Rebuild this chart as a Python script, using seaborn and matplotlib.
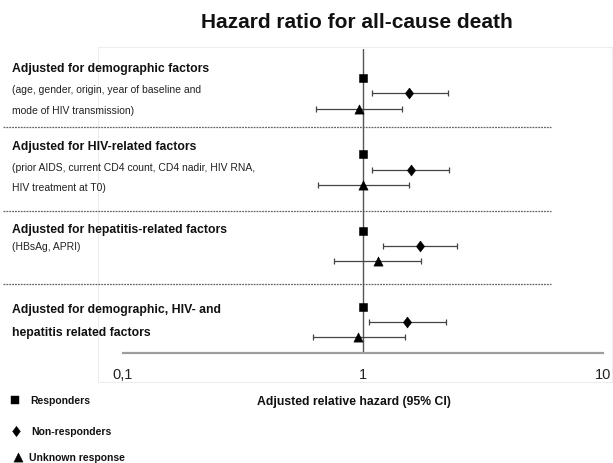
import numpy as np
import pandas as pd
import matplotlib
matplotlib.use("Agg")
import matplotlib.pyplot as plt
import seaborn as sns

sns.set_style("white")
plt.rcParams['font.family'] = ['Liberation Sans', 'DejaVu Sans']

# ---------------- data ----------------
title = "Hazard ratio for all-cause death"
xlabel = "Adjusted relative hazard (95% CI)"
group_titles = [
    ["Adjusted for demographic factors"],
    ["Adjusted for HIV-related factors"],
    ["Adjusted for hepatitis-related factors"],
    ["Adjusted for demographic, HIV- and", "hepatitis related factors"],
]
group_notes = [
    ["(age, gender, origin, year of baseline and", "mode of HIV transmission)"],
    ["(prior AIDS, current CD4 count, CD4 nadir, HIV RNA,", "HIV treatment at T0)"],
    ["(HBsAg, APRI)"],
    [],
]
series = ["Responders", "Non-responders", "Unknown response"]
resp_hr = [1.00, 1.00, 1.00, 1.00]
nonresp_hr = [1.55, 1.58, 1.73, 1.52]
nonresp_lo = [1.09, 1.09, 1.21, 1.06]
nonresp_hi = [2.25, 2.28, 2.47, 2.22]
unk_hr = [0.965, 1.00, 1.16, 0.955]
unk_lo = [0.64, 0.65, 0.76, 0.62]
unk_hi = [1.46, 1.55, 1.74, 1.50]
xticks = [0.1, 1, 10]
xticklabels = ["0,1", "1", "10"]

# ---------------- layout ----------------
W, H = 613, 464
fig = plt.figure(figsize=(W / 100, H / 100), dpi=100)

ov = fig.add_axes([0, 0, 1, 1])
ov.set_xlim(0, W)
ov.set_ylim(H, 0)
ov.axis("off")

# faint plot-area frame
ov.plot([98, 612, 612, 98, 98], [48, 48, 383, 383, 48], color="#ededed", lw=0.8, zorder=0)

ax_left, ax_right, ax_top, ax_bot = 123, 603, 50, 354
ax = fig.add_axes([ax_left / W, 1 - ax_bot / H, (ax_right - ax_left) / W, (ax_bot - ax_top) / H])
ax.patch.set_alpha(0)

unit = 76.3      # px per group
step = 0.2       # series offset within a group
top_off = 29 / unit

rows = []
for g in range(4):
    rows.append(dict(series=series[0], hr=resp_hr[g], y=g))
    rows.append(dict(series=series[1], hr=nonresp_hr[g], y=g + step, lo=nonresp_lo[g], hi=nonresp_hi[g]))
    rows.append(dict(series=series[2], hr=unk_hr[g], y=g + 2 * step, lo=unk_lo[g], hi=unk_hi[g]))
df = pd.DataFrame(rows)

for s in series[1:]:
    d = df[df.series == s]
    ax.errorbar(d.hr, d.y, xerr=[d.hr - d.lo, d.hi - d.hr], fmt="none",
                ecolor="#444444", elinewidth=0.9, capsize=2, capthick=0.9, zorder=2)

ax.axvline(1, color="#555555", lw=1.0, zorder=1)

diamond = [(0, 1), (0.75, 0), (0, -1), (-0.75, 0), (0, 1)]
markers = {"Responders": "s", "Non-responders": diamond, "Unknown response": "^"}
sizes = {"Responders": 28, "Non-responders": 62, "Unknown response": 44}
for s in series:
    sns.scatterplot(data=df[df.series == s], x="hr", y="y", marker=markers[s], s=sizes[s],
                    color="black", edgecolor="black", linewidth=0.4, ax=ax, legend=False, zorder=3)

ax.set_xscale("log")
ax.set_xlim(0.1, 10)
ax.set_ylim(-top_off + (ax_bot - ax_top) / unit, -top_off)
ax.set_xticks(xticks)
ax.set_xticklabels(xticklabels)
ax.minorticks_off()
ax.set_yticks([])
ax.set_xlabel("")
ax.set_ylabel("")
for sp in ["left", "right", "top"]:
    ax.spines[sp].set_visible(False)
ax.spines["bottom"].set_color("#9d9d9d")
ax.spines["bottom"].set_linewidth(1.6)
ax.tick_params(axis="x", direction="in", length=3.5, width=1.6, color="#9d9d9d",
               labelsize=10.5, labelcolor="#222222", pad=10)

# title
ov.text(357, 22, title, ha="center", va="center", fontsize=15, fontweight="bold", color="#111111")

# group labels
title_ys = [[69], [147], [230], [310, 333]]
note_ys = [[90, 111], [168, 188], [247], []]
for g in range(4):
    for line, yy in zip(group_titles[g], title_ys[g]):
        ov.text(12, yy, line, ha="left", va="center", fontsize=8.8, fontweight="bold", color="#111111")
    for line, yy in zip(group_notes[g], note_ys[g]):
        ov.text(12, yy, line, ha="left", va="center", fontsize=7.5, color="#222222")

# separators
for yy in [128, 212, 285]:
    ov.plot([3, 551], [yy, yy], color="#666666", lw=0.9, linestyle=(0, (1.5, 0.8)))

# x label
ov.text(354, 402, xlabel, ha="center", va="center", fontsize=8.8, fontweight="bold", color="#111111")

# legend
leg_y = [401, 432, 458]
leg_mx = [15, 16, 18]
leg_tx = [30, 31, 29]
leg_sizes = [28, 56, 44]
for s, my, mx, tx, ms in zip(series, leg_y, leg_mx, leg_tx, leg_sizes):
    ov.scatter([mx], [my], marker=markers[s], s=ms, color="black", linewidths=0.3)
    ov.text(tx, my, s, ha="left", va="center", fontsize=7.5, fontweight="bold", color="#111111")

fig.savefig("out.png", dpi=100)
